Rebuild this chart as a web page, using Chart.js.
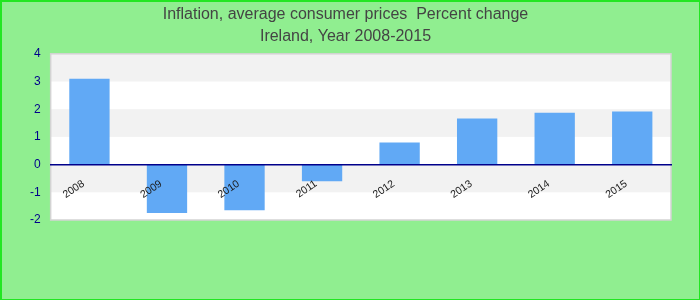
<!DOCTYPE html>
<html>
<head>
<meta charset="utf-8">
<script src="https://cdn.jsdelivr.net/npm/chart.js@4/dist/chart.umd.min.js"></script>
<style>
  html, body { margin: 0; padding: 0; background: #fff; }
  #wrap { position: relative; width: 700px; height: 300px; box-sizing: border-box;
          background: #90ee90; border-style: solid; border-color: #22e622;
          border-width: 2px 1px 1px 2px; }
  #c { display: block; }
</style>
</head>
<body>
<div id="wrap"><canvas id="c" width="697" height="297"></canvas></div>
<script>
const titleLines = ['Inflation, average consumer prices  Percent change', 'Ireland, Year 2008-2015'];
const categories = ['2008', '2009', '2010', '2011', '2012', '2013', '2014', '2015'];
const inflation = [3.1, -1.75, -1.65, -0.6, 0.8, 1.66, 1.87, 1.92];
const yMin = -2;
const yMax = 4;
const yStep = 1;

const bandsPlugin = {
  id: 'bands',
  beforeDraw(chart) {
    const { ctx, chartArea: a, scales: { y } } = chart;
    ctx.save();
    ctx.fillStyle = '#ffffff';
    ctx.fillRect(a.left, a.top, a.right - a.left, a.bottom - a.top);
    const ticks = y.ticks.map(t => t.value).sort((p, q) => q - p);
    for (let i = 0; i < ticks.length - 1; i++) {
      if (i % 2 === 0) {
        const y1 = y.getPixelForValue(ticks[i]);
        const y2 = y.getPixelForValue(ticks[i + 1]);
        ctx.fillStyle = '#f2f2f2';
        ctx.fillRect(a.left, y1, a.right - a.left, y2 - y1);
      }
    }
    ctx.strokeStyle = '#d3d3d3';
    ctx.lineWidth = 1.5;
    ctx.strokeRect(a.left, a.top, a.right - a.left, a.bottom - a.top);
    ctx.restore();
  }
};

new Chart(document.getElementById('c'), {
  type: 'bar',
  data: {
    labels: categories,
    datasets: [{
      data: inflation,
      backgroundColor: '#61a9f5',
      borderWidth: 0,
      barPercentage: 0.52,
      categoryPercentage: 1.0
    }]
  },
  plugins: [bandsPlugin],
  options: {
    responsive: false,
    animation: false,
    layout: { padding: { left: 18, right: 28, top: 0, bottom: 79 } },
    plugins: {
      legend: { display: false },
      tooltip: { enabled: false },
      title: {
        display: true,
        text: titleLines,
        color: '#444444',
        font: { family: 'Liberation Sans, Arial, sans-serif', size: 16, weight: 'normal', lineHeight: 1.4 },
        padding: { top: 1, bottom: 6 }
      }
    },
    scales: {
      x: {
        position: { y: 0 },
        grid: { display: false, drawTicks: false },
        border: { display: true, color: '#00008b', width: 1.5, z: 1 },
        ticks: {
          z: 1,
          color: '#1a1a1a',
          font: { family: 'Liberation Sans, Arial, sans-serif', size: 10.5 },
          minRotation: 34,
          maxRotation: 34,
          padding: 13,
          labelOffset: -6,
          autoSkip: false
        }
      },
      y: {
        min: yMin,
        max: yMax,
        grid: { display: false, drawTicks: false },
        border: { display: false },
        ticks: {
          stepSize: yStep,
          color: '#00008b',
          font: { family: 'Liberation Sans, Arial, sans-serif', size: 12 },
          padding: 10
        }
      }
    }
  }
});
</script>
</body>
</html>
